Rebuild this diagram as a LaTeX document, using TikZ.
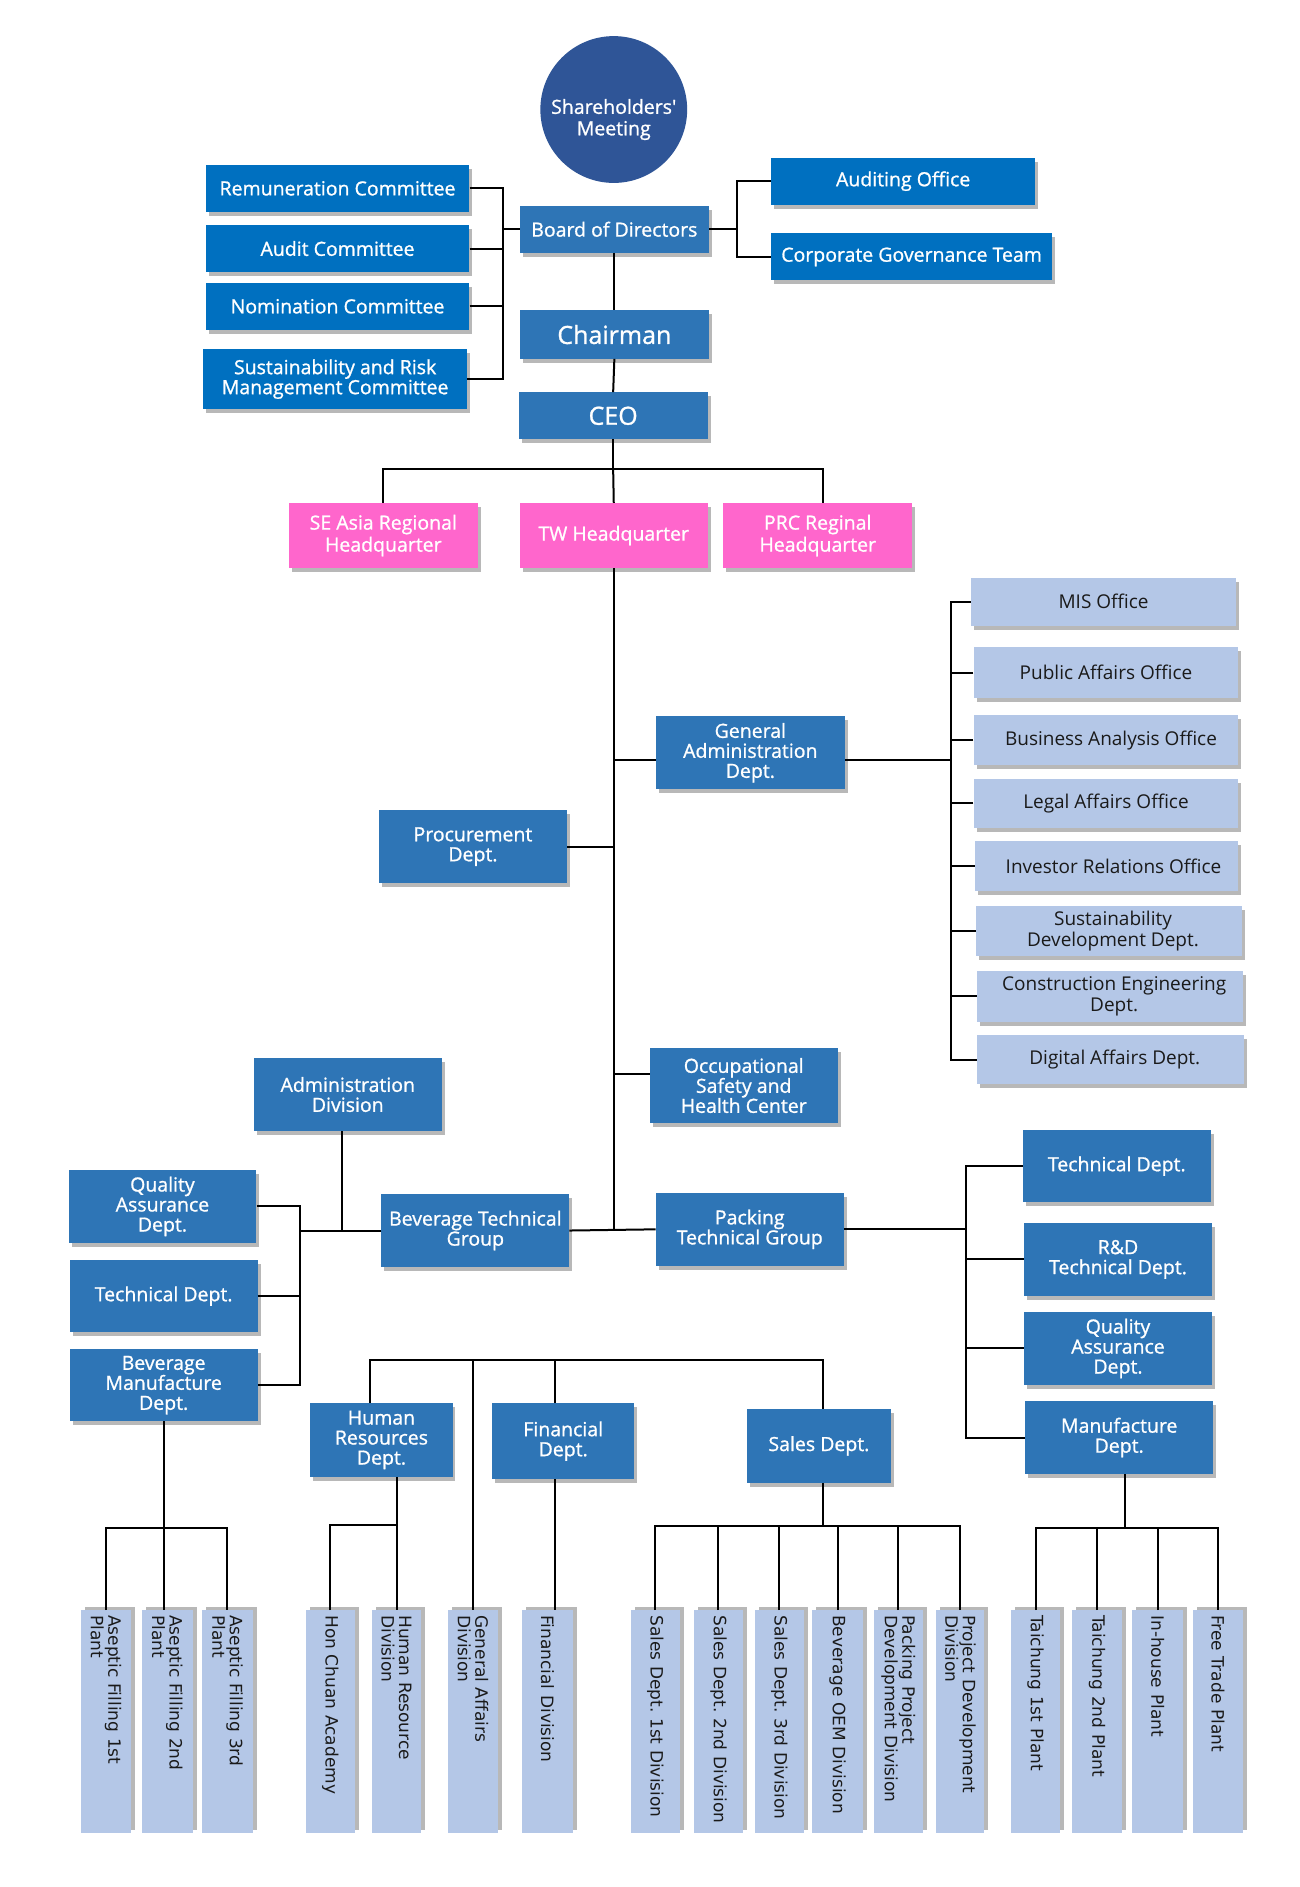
\documentclass[tikz,border=0pt]{standalone}
\usepackage{fontspec}
\setmainfont{Open Sans}
\newfontfamily\wfont{Open Sans}[FakeBold=1.0]
\newfontfamily\vfont{DejaVu Sans}
\usetikzlibrary{shadows,calc}
\hyphenpenalty=10000
\frenchspacing
\definecolor{cblue}{HTML}{0070C0}
\definecolor{mblue}{HTML}{2E75B6}
\definecolor{pinkc}{HTML}{FF66CC}
\definecolor{lightc}{HTML}{B4C7E7}
\definecolor{navyc}{HTML}{2F5597}
\definecolor{darktxt}{HTML}{1A1A1A}
\newcommand{\mkbox}[7]{\node[#6, minimum width={(#4-#2)*1.2037pt}, minimum height={(#5-#3)*1.2037pt}] (#1) at ({(#2+#4)/2},{(#3+#5)/2}) {#7};}
\newcommand{\mkvbox}[4]{\node[vbox, minimum width={185*1.2037pt}, minimum height={(#3-#2)*1.2037pt}, text width={185*1.2037pt-10pt}] (#1) at ({(#2+#3)/2},1430.5) {#4};}
\tikzset{
  shd/.style={drop shadow={shadow xshift=3pt, shadow yshift=-4pt, fill=black, opacity=0.28}},
  vshd/.style={drop shadow={shadow xshift=4pt, shadow yshift=3pt, fill=black, opacity=0.28}},
  basebox/.style={rectangle, inner sep=0pt, align=center, shd},
  cbox/.style={basebox, fill=cblue, text=white, font=\wfont\fontsize{19.5}{20}\selectfont},
  mbox/.style={basebox, fill=mblue, text=white, font=\wfont\fontsize{19.5}{20}\selectfont},
  bigbox/.style={basebox, fill=mblue, text=white, font=\wfont\fontsize{25}{26}\selectfont},
  pbox/.style={basebox, fill=pinkc, text=white, font=\wfont\fontsize{19.5}{22}\selectfont},
  lbox/.style={basebox, fill=lightc, text=darktxt, font=\fontsize{19}{21}\selectfont},
  vbox/.style={rectangle, rotate=-90, align=left, inner xsep=5pt, inner ysep=0pt, fill=lightc, text=darktxt, font=\vfont\fontsize{17}{17.5}\selectfont, vshd},
  conn/.style={draw=black, line width=2pt}
}
\begin{document}
\begin{tikzpicture}[x=1.2037pt, y=-1.2037pt]
\useasboundingbox (0,0) rectangle (1080,1568);
\fill[white] (0,0) rectangle (1080,1568);

% top
\node[circle, fill=navyc, minimum size={122*1.2037pt}, inner sep=0pt,
  label={[text=white, font=\wfont\fontsize{19.5}{21.5}\selectfont, align=center, yshift=-10pt]center:Shareholders'\\Meeting}] (sh) at (510,91) {};

\mkbox{rem}{171}{137}{390}{176}{cbox}{Remuneration Committee}
\mkbox{aud}{171}{187}{390}{226}{cbox}{Audit Committee}
\mkbox{nom}{171}{235}{390}{274}{cbox}{Nomination Committee}
\mkbox{sus}{169}{290}{388}{340}{cbox}{Sustainability and Risk\\Management Committee}
\mkbox{aoff}{641}{131}{860}{170}{cbox}{Auditing Office}
\mkbox{cgt}{641}{194}{874}{233}{cbox}{Corporate Governance Team}

\mkbox{bod}{432}{171}{589}{210}{mbox}{Board of Directors}
\mkbox{chair}{432}{258}{589}{298}{bigbox}{Chairman}
\mkbox{ceo}{431}{326}{588}{365}{bigbox}{CEO}

\mkbox{sea}{240}{418}{397}{472}{pbox}{SE Asia Regional\\Headquarter}
\mkbox{tw}{432}{418}{588}{472}{pbox}{TW Headquarter}
\mkbox{prc}{601}{418}{758}{472}{pbox}{PRC Reginal\\Headquarter}

\mkbox{ga}{545}{595}{702}{656}{mbox}{General\\Administration\\Dept.}
\mkbox{proc}{315}{673}{471}{734}{mbox}{Procurement\\Dept.}
\mkbox{osh}{540}{871}{696}{933}{mbox}{Occupational\\Safety and\\Health Center}
\mkbox{adm}{211}{879}{367}{940}{mbox}{Administration\\Division}
\mkbox{bev}{317}{992}{473}{1053}{mbox}{Beverage Technical\\Group}
\mkbox{pack}{545}{991}{701}{1052}{mbox}{Packing\\Technical Group}
\mkbox{qaa}{57}{972}{213}{1033}{mbox}{Quality\\Assurance\\Dept.}
\mkbox{techa}{58}{1047}{214}{1107}{mbox}{Technical Dept.}
\mkbox{bmd}{58}{1121}{214}{1181}{mbox}{Beverage\\Manufacture\\Dept.}
\mkbox{techb}{850}{939}{1006}{999}{mbox}{Technical Dept.}
\mkbox{rd}{851}{1016}{1007}{1077}{mbox}{R\&D\\Technical Dept.}
\mkbox{qab}{851}{1090}{1007}{1151}{mbox}{Quality\\Assurance\\Dept.}
\mkbox{mfd}{852}{1164}{1008}{1225}{mbox}{Manufacture\\Dept.}
\mkbox{hrd}{258}{1166}{376}{1227}{mbox}{Human\\Resources\\Dept.}
\mkbox{fin}{409}{1166}{527}{1229}{mbox}{Financial\\Dept.}
\mkbox{sales}{621}{1171}{740}{1232}{mbox}{Sales Dept.}

\mkbox{mis}{807}{480}{1027}{520}{lbox}{MIS Office}
\mkbox{pub}{809}{538}{1029}{580}{lbox}{Public Affairs Office}
\mkbox{bus}{809}{594}{1029}{636}{lbox}{\hspace*{10pt}Business Analysis Office}
\mkbox{leg}{809}{647}{1029}{688}{lbox}{Legal Affairs Office}
\mkbox{inv}{810}{699}{1029}{740}{lbox}{\hspace*{14pt}Investor Relations Office}
\mkbox{sdd}{811}{753}{1032}{794}{lbox}{\hspace*{8pt}Sustainability\\\hspace*{8pt}Development Dept.}
\mkbox{ced}{812}{807}{1033}{849}{lbox}{\hspace*{8pt}Construction Engineering\\\hspace*{8pt}Dept.}
\mkbox{dig}{812}{860}{1034}{901}{lbox}{\hspace*{8pt}Digital Affairs Dept.}

\mkvbox{afa}{67}{109}{Aseptic Filling 1st\\Plant}
\mkvbox{afb}{118}{160}{Aseptic Filling 2nd\\Plant}
\mkvbox{afc}{168}{210}{Aseptic Filling 3rd\\Plant}
\mkvbox{hca}{254}{295}{Hon Chuan Academy}
\mkvbox{hrdiv}{309}{350}{Human Resource\\Division}
\mkvbox{gad}{372}{414}{General Affairs\\Division}
\mkvbox{fdiv}{434}{476}{Financial Division}
\mkvbox{sa}{524}{565}{Sales Dept. 1st Division}
\mkvbox{sb}{577}{617}{Sales Dept. 2nd Division}
\mkvbox{sc}{627}{668}{Sales Dept. 3rd Division}
\mkvbox{oem}{675}{717}{Beverage OEM Division}
\mkvbox{ppd}{726}{767}{Packing Project\\Development Division}
\mkvbox{pdd}{778}{818}{Project Development\\Division}
\mkvbox{tca}{840}{881}{Taichung 1st Plant}
\mkvbox{tcb}{891}{932}{Taichung 2nd Plant}
\mkvbox{ihp}{941}{983}{In-house Plant}
\mkvbox{ftp}{991}{1033}{Free Trade Plant}

% helper coordinates
\coordinate (cL) at (418,0);
\coordinate (cR) at (612,0);
\coordinate (hqbus) at (0,390);
\coordinate (cGA) at (790,0);
\coordinate (cB) at (249,0);
\coordinate (cP) at (803,0);
\coordinate (mbus) at (0,1130);
\coordinate (abus) at (0,1270);
\coordinate (hbus) at (0,1267);
\coordinate (sbus) at (0,1268);
\coordinate (fbus) at (0,1270);
\coordinate (trunkEnd) at (0,1022);
\coordinate (gaIn) at ($(ga.north west)!0.6!(ga.south west)$);
\coordinate (oshIn) at ($(osh.north west)!0.34!(osh.south west)$);
\coordinate (hrTop) at ($(hrd.north west)!0.42!(hrd.north east)$);
\coordinate (finTop) at ($(fin.north west)!0.44!(fin.north east)$);
\coordinate (finBot) at ($(fin.south west)!0.44!(fin.south east)$);
\coordinate (salesTop) at ($(sales.north west)!0.53!(sales.north east)$);
\coordinate (salesBot) at ($(sales.south west)!0.53!(sales.south east)$);
\coordinate (mfdBot) at ($(mfd.south west)!0.53!(mfd.south east)$);
\coordinate (admBot) at ($(adm.south west)!0.47!(adm.south east)$);
\coordinate (prcTop) at ($(prc.north west)!0.53!(prc.north east)$);

% connectors
\draw[conn] (rem.east) -- (rem.east -| cL) -- (sus.east -| cL) -- (sus.east);
\draw[conn] (aud.east) -- (aud.east -| cL);
\draw[conn] (nom.east) -- (nom.east -| cL);
\draw[conn] (bod.west) -- (bod.west -| cL);
\draw[conn] (aoff.west) -- (aoff.west -| cR) -- (cgt.west -| cR) -- (cgt.west);
\draw[conn] (bod.east) -- (bod.east -| cR);
\draw[conn] (bod.south) -- (chair.north);
\draw[conn] (chair.south) -- (ceo.north);

\draw[conn] (ceo.south) -- (ceo.south |- hqbus);
\draw[conn] (sea.north) -- (sea.north |- hqbus) -- (prcTop |- hqbus) -- (prcTop);
\draw[conn] (ceo.south |- hqbus) -- (tw.north);

\draw[conn] (tw.south) -- (tw.south |- trunkEnd);
\draw[conn] (gaIn) -- (gaIn -| tw.south);
\draw[conn] (proc.east) -- (proc.east -| tw.south);
\draw[conn] (oshIn) -- (oshIn -| tw.south);
\draw[conn] (bev.east) -- (pack.west);

\draw[conn] (ga.east |- gaIn) -- (gaIn -| cGA);
\draw[conn] (mis.west) -- (mis.west -| cGA) -- (dig.west -| cGA) -- (dig.west);
\foreach \n in {pub,bus,leg,inv,sdd,ced} \draw[conn] (\n.west) -- (\n.west -| cGA);

\draw[conn] (admBot) -- (admBot |- bev.west);
\draw[conn] (bev.west) -- (bev.west -| cB);
\draw[conn] (qaa.east) -- (qaa.east -| cB) -- (bmd.east -| cB) -- (bmd.east);
\draw[conn] (techa.east) -- (techa.east -| cB);

\draw[conn] (pack.east) -- (pack.east -| cP);
\draw[conn] (techb.west) -- (techb.west -| cP) -- (mfd.west -| cP) -- (mfd.west);
\draw[conn] (rd.west) -- (rd.west -| cP);
\draw[conn] (qab.west) -- (qab.west -| cP);

\draw[conn] (hrTop) -- (hrTop |- mbus) -- (salesTop |- mbus) -- (salesTop);
\draw[conn] (finTop) -- (finTop |- mbus);
\draw[conn] (gad.west |- mbus) -- (gad.west);

\draw[conn] (bmd.south) -- (bmd.south |- afb.west);
\draw[conn] (afa.west) -- (afa.west |- abus) -- (afc.west |- abus) -- (afc.west);

\draw[conn] (hrdiv.west |- hrd.south) -- (hrdiv.west);
\draw[conn] (hca.west) -- (hca.west |- hbus) -- (hrdiv.west |- hbus);

\draw[conn] (finBot) -- (finBot |- fdiv.west);

\draw[conn] (salesBot) -- (salesBot |- sbus);
\draw[conn] (sa.west) -- (sa.west |- sbus) -- (pdd.west |- sbus) -- (pdd.west);
\foreach \n in {sb,sc,oem,ppd} \draw[conn] (\n.west) -- (\n.west |- sbus);

\draw[conn] (mfdBot) -- (mfdBot |- fbus);
\draw[conn] (tca.west) -- (tca.west |- fbus) -- (ftp.west |- fbus) -- (ftp.west);
\foreach \n in {tcb,ihp} \draw[conn] (\n.west) -- (\n.west |- fbus);
\end{tikzpicture}
\end{document}
